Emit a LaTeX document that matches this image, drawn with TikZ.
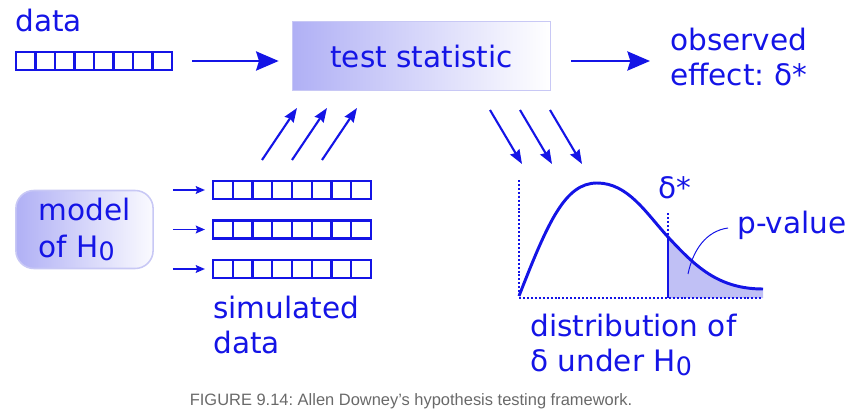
\documentclass[tikz,border=0pt]{standalone}
\usepackage{fontspec}
\setmainfont{DejaVu Sans}
\newfontfamily\capfont{Liberation Sans}
\usetikzlibrary{arrows.meta,calc}
\definecolor{ink}{RGB}{20,20,230}
\definecolor{boxL}{RGB}{176,176,245}
\definecolor{boxB}{RGB}{200,200,245}
\definecolor{tailfill}{RGB}{192,192,245}
\definecolor{capgray}{RGB}{105,105,105}
\newcommand{\Hnull}{H\raisebox{-0.12em}{\fontsize{18}{20}\selectfont 0}}
\frenchspacing
\begin{document}
\begin{tikzpicture}[x=0.025cm,y=-0.025cm,
  font=\fontsize{21}{24.8}\selectfont,
  lbl/.style={text=ink, inner sep=0, anchor=base west, align=left},
  arr/.style={draw=ink, line width=1.5pt, inner sep=0, minimum height=0.45cm,
    path picture={\foreach \i in {1,...,7}{\draw[ink,line width=1.6pt]
      ($(path picture bounding box.south west)!\i/8!(path picture bounding box.south east)$) --
      ($(path picture bounding box.north west)!\i/8!(path picture bounding box.north east)$);}}},
  bigarrow/.style={draw=ink, line width=2.1pt, -{Stealth[length=16pt,width=13.5pt,inset=2pt]}},
  midarrow/.style={draw=ink, line width=1.5pt, -{Stealth[length=10pt,width=7.5pt,inset=1pt]}},
  smallarrow/.style={draw=ink, line width=1.1pt, -{Stealth[length=6.5pt,width=5.5pt,inset=1pt]}},
  dotline/.style={draw=ink, line width=1.4pt, dash pattern=on 1.4pt off 1.4pt},
]
\useasboundingbox (0,0) rectangle (856,420);

% data
\node[lbl] (datalbl) at (15,32) {data};
\node[arr, minimum width=3.9cm] (data) at (94,61) {};

% test statistic box
\node[draw=boxB, line width=1.1pt, left color=boxL, right color=white,
      minimum width=6.45cm, minimum height=1.73cm, text=ink] (ts) at (421.5,56) {test statistic};

% observed effect
\node[lbl, anchor=north west] (obs) at (670,28) {observed\\effect: δ*};

\draw[bigarrow, shorten <=0.475cm, shorten >=0.325cm] (data.east) -- (data.east -| ts.west);
\draw[bigarrow, shorten <=0.5cm, shorten >=0.5cm] (data.east -| ts.east) -- (data.east -| obs.west);

% model of H0
\node[draw=boxB, line width=1.1pt, rounded corners=0.45cm, left color=boxL, right color=white!94!boxL,
      minimum width=3.43cm, minimum height=1.95cm, text=ink, align=left,
      font=\fontsize{21}{26}\selectfont] (model) at (84.5,229.5) {model\\of \Hnull};

% simulated data arrays
\node[arr, minimum width=3.95cm] (sim1) at (292,190) {};
\node[arr, minimum width=3.95cm] (sim2) at (292,229.5) {};
\node[arr, minimum width=3.95cm] (sim3) at (292,269) {};
\foreach \s in {sim1,sim2,sim3}
  \draw[smallarrow, shorten <=0.475cm, shorten >=0.175cm] (\s.west -| model.east) -- (\s.west);

\node[lbl, anchor=north west] (simlbl) at (213,296) {simulated\\data};

% up arrows
\coordinate (u1s) at (262,160); \coordinate (u1e) at (297,108);
\coordinate (u2s) at (292,160); \coordinate (u2e) at (327,108);
\coordinate (u3s) at (322,160); \coordinate (u3e) at (357,108);
\draw[midarrow] (u1s) -- (u1e);
\draw[midarrow] (u2s) -- (u2e);
\draw[midarrow] (u3s) -- (u3e);

% down arrows
\coordinate (d1s) at (490,110); \coordinate (d1e) at (522,164);
\coordinate (d2s) at (520,110); \coordinate (d2e) at (552,164);
\coordinate (d3s) at (550,110); \coordinate (d3e) at (582,164);
\draw[midarrow] (d1s) -- (d1e);
\draw[midarrow] (d2s) -- (d2e);
\draw[midarrow] (d3s) -- (d3e);

% distribution
\fill[tailfill] (668,237) .. controls (695,266) and (718,289) .. (763,289)
  -- (763,298) -- (668,298) -- cycle;
\draw[dotline] (519,180) -- (519,298) -- (763,298);
\draw[dotline] (668,213) -- (668,237);
\draw[ink, line width=1.6pt] (668,237) -- (668,298);
\draw[ink, line width=2.1pt] (519,296) .. controls (548,222) and (565,183) .. (597,183)
  .. controls (628,183) and (646,213) .. (668,237)
  .. controls (695,266) and (718,289) .. (763,289);
\node[lbl] (dstar) at (658,198) {δ*};
\node[lbl] (pval) at (737,233) {p-value};
\draw[ink, line width=0.7pt] (728,228) .. controls (706,231) and (693,250) .. (688,274);
\node[lbl, anchor=north west] (distlbl) at (530,314) {distribution of\\δ under \Hnull};

% caption
\node[text=capgray, inner sep=0, anchor=base, font=\capfont\fontsize{11.7}{14}\selectfont] (cap) at (411,405)
  {FIGURE 9.14: Allen Downey’s hypothesis testing framework.};
\end{tikzpicture}
\end{document}
